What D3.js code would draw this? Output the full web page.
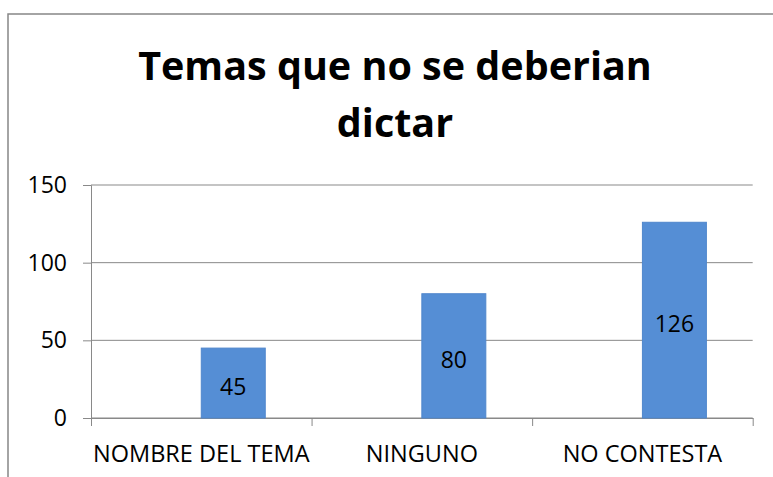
<!DOCTYPE html>
<html>
<head>
<meta charset="utf-8">
<script src="https://cdn.jsdelivr.net/npm/d3@7"></script>
<style>
  body { margin: 0; background: #fff; }
  text { font-family: "Open Sans", sans-serif; }
</style>
</head>
<body>
<script>
var categories = ['NOMBRE DEL TEMA', 'NINGUNO', 'NO CONTESTA'];
var values = [45, 80, 126];
var yTicks = [0, 50, 100, 150];
var titleLines = ['Temas que no se deberian', 'dictar'];

var width = 773;
var height = 477;
var plot = { left: 91, right: 752.7, top: 185, bottom: 418 };

var svg = d3.select('body').append('svg')
    .attr('width', width)
    .attr('height', height);

// chart frame (runs off the right and bottom edges)
svg.append('rect')
    .attr('x', 8)
    .attr('y', 14)
    .attr('width', 800)
    .attr('height', 500)
    .attr('fill', 'none')
    .attr('stroke', '#878787')
    .attr('stroke-width', 1.5);

svg.append('g')
    .selectAll('text')
    .data(titleLines)
    .enter().append('text')
    .attr('x', 395)
    .attr('y', function (d, i) { return 80 + i * 57; })
    .attr('text-anchor', 'middle')
    .attr('font-size', 39.5)
    .attr('font-weight', 'bold')
    .text(function (d) { return d; });

var x = d3.scaleBand()
    .domain(categories)
    .range([plot.left, plot.right])
    .padding(0);

var y = d3.scaleLinear()
    .domain([0, 150])
    .range([plot.bottom, plot.top]);

// gridlines
svg.append('g')
    .selectAll('line')
    .data(yTicks)
    .enter().append('line')
    .attr('x1', plot.left)
    .attr('x2', plot.right)
    .attr('y1', function (d) { return y(d); })
    .attr('y2', function (d) { return y(d); })
    .attr('stroke', '#898989')
    .attr('stroke-width', 1);

var yAxis = svg.append('g')
    .attr('transform', 'translate(' + plot.left + ',0)')
    .call(d3.axisLeft(y).tickValues(yTicks).tickSize(8).tickPadding(16));
yAxis.select('.domain').attr('stroke', '#898989');
yAxis.selectAll('.tick line').attr('stroke', '#898989');
yAxis.selectAll('.tick text')
    .attr('font-size', 23)
    .attr('fill', '#000')
    .style('font-family', '"Open Sans", sans-serif');

// category boundary ticks
var edges = d3.scaleLinear().domain([0, categories.length]).range([plot.left, plot.right]);
var xEdges = svg.append('g')
    .attr('transform', 'translate(0,' + plot.bottom + ')')
    .call(d3.axisBottom(edges).tickValues(d3.range(categories.length + 1)).tickFormat('').tickSize(8).tickSizeOuter(0));
xEdges.select('.domain').attr('stroke', '#898989');
xEdges.selectAll('.tick line').attr('stroke', '#898989');

var xAxis = svg.append('g')
    .attr('transform', 'translate(0,' + plot.bottom + ')')
    .call(d3.axisBottom(x).tickSize(0));
xAxis.select('.domain').remove();
xAxis.selectAll('.tick text')
    .attr('y', 44)
    .attr('dy', 0)
    .attr('font-size', 23.5)
    .attr('fill', '#000')
    .style('font-family', '"Open Sans", sans-serif');

var barW = x.bandwidth() * 0.29;

svg.append('g')
    .selectAll('rect')
    .data(values)
    .enter().append('rect')
    .attr('x', function (d, i) { return x(categories[i]) + x.bandwidth() / 2; })
    .attr('y', function (d) { return y(d); })
    .attr('width', barW)
    .attr('height', function (d) { return y(0) - y(d); })
    .attr('fill', '#558ed5')
    .attr('stroke', '#4f86cc')
    .attr('stroke-width', 1);

svg.append('g')
    .selectAll('text')
    .data(values)
    .enter().append('text')
    .attr('x', function (d, i) { return x(categories[i]) + x.bandwidth() / 2 + barW / 2; })
    .attr('y', function (d) { return (y(d) + y(0)) / 2 + 12; })
    .attr('text-anchor', 'middle')
    .attr('font-size', 23)
    .attr('fill', '#000')
    .text(function (d) { return d; });
</script>
</body>
</html>
